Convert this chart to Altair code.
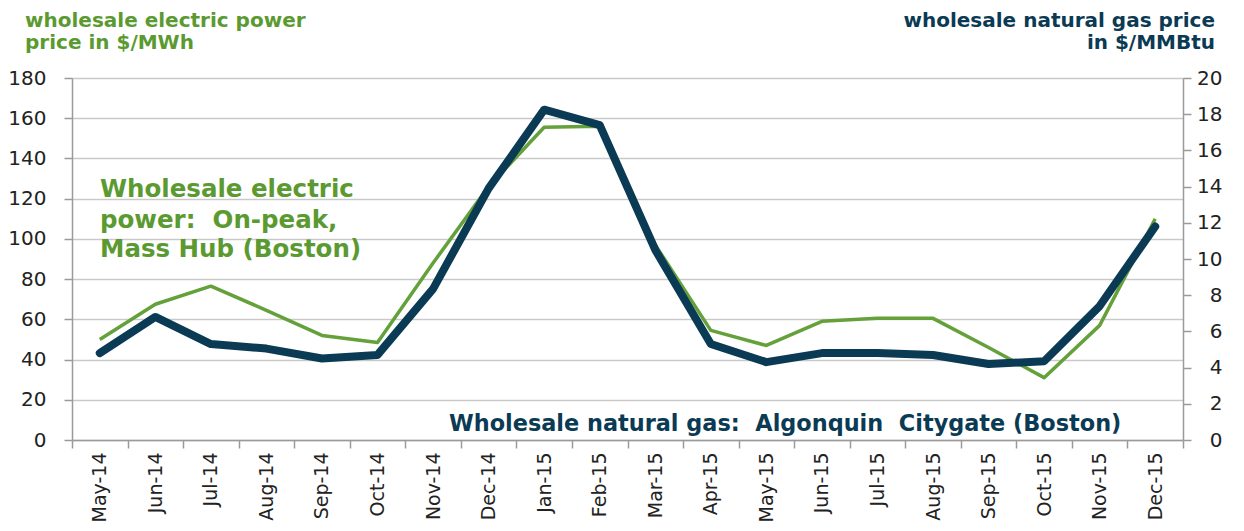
import altair as alt
import pandas as pd

months = ["May-14", "Jun-14", "Jul-14", "Aug-14", "Sep-14", "Oct-14", "Nov-14", "Dec-14",
          "Jan-15", "Feb-15", "Mar-15", "Apr-15", "May-15", "Jun-15", "Jul-15", "Aug-15",
          "Sep-15", "Oct-15", "Nov-15", "Dec-15"]
power = [50, 67.5, 76.5, 64.5, 52, 48.5, 88, 126, 155.5, 156, 97, 54.5, 47, 59, 60.5, 60.5,
         46, 31, 57, 110]
gas = [4.8, 6.8, 5.3, 5.05, 4.5, 4.7, 8.35, 13.9, 18.25, 17.4, 10.5, 5.3, 4.3, 4.8, 4.8, 4.7,
       4.2, 4.35, 7.4, 11.8]

left_ticks = list(range(0, 181, 20))
right_ticks = list(range(0, 21, 2))

GREEN = "#64a13a"
GREEN_TXT = "#5b9a31"
NAVY = "#0b3a54"
FONT = "DejaVu Sans"

df = pd.DataFrame({"month": months, "power": power, "gas": gas})

xenc = alt.X("month:N", sort=months,
             scale=alt.Scale(type="band", paddingInner=0, paddingOuter=0),
             axis=alt.Axis(title=None, labelAngle=-90, labelAlign="right", labelBaseline="middle",
                           labelPadding=4, tickBand="extent", tickSize=8, tickColor="#9a9a9a",
                           domainColor="#9a9a9a", domainWidth=1.5, tickWidth=1.5,
                           labelFont=FONT, labelFontSize=19, labelColor="#222222", grid=False))

base = alt.Chart(df)

green = base.mark_line(color=GREEN, strokeWidth=3.5, strokeJoin="round").encode(
    x=xenc,
    y=alt.Y("power:Q", scale=alt.Scale(domain=[0, 180], nice=False),
            axis=alt.Axis(title=None, values=left_ticks, orient="left", grid=True,
                          gridColor="#c9c9c9", gridWidth=1.5, tickSize=8, tickColor="#9a9a9a",
                          tickWidth=1.5, domainColor="#9a9a9a", domainWidth=1.5,
                          labelPadding=18, labelFont=FONT, labelFontSize=20,
                          labelColor="#222222")),
)

navy = base.mark_line(color=NAVY, strokeWidth=8, strokeJoin="round", strokeCap="round").encode(
    x=xenc,
    y=alt.Y("gas:Q", scale=alt.Scale(domain=[0, 20], nice=False),
            axis=alt.Axis(title=None, values=right_ticks, orient="right", grid=False,
                          tickSize=8, tickColor="#9a9a9a", tickWidth=1.5,
                          domainColor="#9a9a9a", domainWidth=1.5,
                          labelPadding=31, labelAlign="right", labelFont=FONT,
                          labelFontSize=20, labelColor="#222222")),
)

one = alt.Data(values=[{}])


def txt(text, x, y, color, size, align="left"):
    return alt.Chart(one).mark_text(text=text, color=color, font=FONT, fontSize=size,
                                    fontWeight="bold", align=align, baseline="middle").encode(
        x=alt.value(x), y=alt.value(y))


texts = [
    txt("wholesale electric power", -47, -57, GREEN_TXT, 20),
    txt("price in $/MWh", -47, -35, GREEN_TXT, 20),
    txt("wholesale natural gas price", 1143, -57, NAVY, 20, "right"),
    txt("in $/MMBtu", 1143, -35, NAVY, 20, "right"),
    txt("Wholesale electric", 28, 112, GREEN_TXT, 24.5),
    txt("power:\u00a0 On-peak,", 28, 143, GREEN_TXT, 24.5),
    txt("Mass Hub (Boston)", 28, 172, GREEN_TXT, 24.5),
    txt("Wholesale natural gas:\u00a0 Algonquin\u00a0 Citygate (Boston)", 377, 346, NAVY, 22.4),
]

chart = alt.layer(green, navy, *texts).resolve_scale(y="independent").properties(
    width=1111, height=362,
    autosize=alt.AutoSizeParams(type="none"),
    padding={"left": 64, "top": 70, "right": 50, "bottom": 90},
).configure_view(stroke=None)

chart.save("out.html", embed_options={"renderer": "svg", "actions": False})
